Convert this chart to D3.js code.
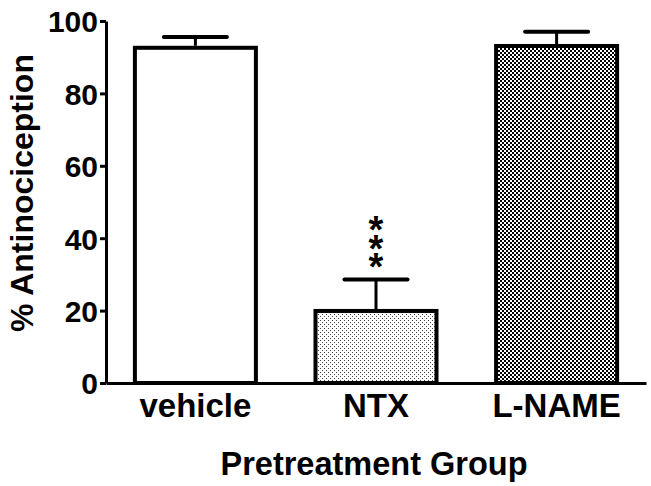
<!DOCTYPE html>
<html>
<head>
<meta charset="utf-8">
<script src="https://cdn.jsdelivr.net/npm/d3@7"></script>
<style>
  body { margin: 0; background: #fff; }
  text { font-family: "Liberation Sans", Arial, sans-serif; font-weight: bold; fill: #000; }
</style>
</head>
<body>
<div class="chart"></div>
<script>
// % antinociception by pretreatment group (mean +/- SEM)

const GROUPS = ['vehicle', 'NTX', 'L-NAME']
const MEANS = [92.6, 19.9, 93.1]
const SEMS = [3.0, 8.7, 3.9]
const SIGNIF = ['', '***', '']
const Y_TICKS = [0, 20, 40, 60, 80, 100]

var svgWidth = 651
var svgHeight = 486

var svg = d3.select('.chart')
    .append('svg')
    .attr('width', svgWidth)
    .attr('height', svgHeight)

var defs = svg.append('defs')

// fine dot fill for NTX
var dots = defs.append('pattern')
    .attr('id', 'dots')
    .attr('width', 4).attr('height', 4)
    .attr('patternUnits', 'userSpaceOnUse')
dots.append('rect').attr('width', 4).attr('height', 4).attr('fill', '#fff')
dots.append('rect').attr('x', 0).attr('y', 0).attr('width', 1).attr('height', 1).attr('fill', '#444')
dots.append('rect').attr('x', 2).attr('y', 2).attr('width', 1).attr('height', 1).attr('fill', '#444')

// checkerboard fill for L-NAME
var checks = defs.append('pattern')
    .attr('id', 'checks')
    .attr('width', 4).attr('height', 4)
    .attr('patternUnits', 'userSpaceOnUse')
checks.append('rect').attr('width', 4).attr('height', 4).attr('fill', '#fff')
checks.append('rect').attr('x', 0).attr('y', 0).attr('width', 2).attr('height', 2).attr('fill', '#000')
checks.append('rect').attr('x', 2).attr('y', 2).attr('width', 2).attr('height', 2).attr('fill', '#000')

var fills = ['#fff', 'url(#dots)', 'url(#checks)']

var data = GROUPS.map((g, i) => ({ group: g, mean: MEANS[i], sem: SEMS[i], sig: SIGNIF[i], fill: fills[i] }))

var xScale = d3.scaleBand()
    .domain(GROUPS)
    .range([106, 646])
    .paddingInner(0.33)
    .paddingOuter(0.16)

var yScale = d3.scaleLinear()
    .domain([0, 100])
    .range([383, 21])

// bars
svg.selectAll('.bar')
    .data(data)
    .enter()
    .append('rect')
    .classed('bar', true)
    .attr('x', d => xScale(d.group))
    .attr('y', d => yScale(d.mean))
    .attr('width', xScale.bandwidth())
    .attr('height', d => yScale(0) - yScale(d.mean))
    .attr('fill', d => d.fill)
    .attr('stroke', '#000')
    .attr('stroke-width', 4)

// error bars (upper only)
var capW = 63
var err = svg.selectAll('.err')
    .data(data)
    .enter()
    .append('g')
    .classed('err', true)
    .attr('transform', d => `translate(${xScale(d.group) + xScale.bandwidth() / 2}, 0)`)

err.append('line')
    .attr('x1', 0).attr('x2', 0)
    .attr('y1', d => yScale(d.mean) - 2)
    .attr('y2', d => yScale(d.mean + d.sem))
    .attr('stroke', '#000')
    .attr('stroke-width', 3)

err.append('line')
    .attr('x1', -capW / 2).attr('x2', capW / 2)
    .attr('y1', d => yScale(d.mean + d.sem))
    .attr('y2', d => yScale(d.mean + d.sem))
    .attr('stroke', '#000')
    .attr('stroke-width', 4)
    .attr('stroke-linecap', 'round')

// significance stars stacked vertically above the cap:
// one text run turned 90deg, each glyph turned back upright
var starFs = 38
var starStep = 18.5
data.filter(d => d.sig).forEach(d => {
    var cx = xScale(d.group) + xScale.bandwidth() / 2
    var n = d.sig.length
    var lowest = yScale(d.mean + d.sem) - 21          // centre of bottom star
    var topCentre = lowest - (n - 1) * starStep
    var adv = 0.389 * starFs
    svg.append('text')
        .attr('transform', `translate(${cx - adv / 2}, ${topCentre + 22}) rotate(90)`)
        .attr('rotate', '-90')
        .attr('font-size', starFs + 'px')
        .attr('letter-spacing', (starStep - adv) + 'px')
        .text(d.sig)
})

// y axis
var yAxis = svg.append('g')
    .attr('transform', 'translate(106, 0)')
    .call(d3.axisLeft(yScale).tickValues(Y_TICKS).tickSize(6).tickSizeOuter(0).tickPadding(2))
yAxis.select('.domain').attr('stroke-width', 3)
yAxis.selectAll('.tick line').attr('stroke-width', 3)
yAxis.selectAll('.tick text')
    .attr('font-size', '30px')
    .attr('dy', '0.36em')

// x axis
var xAxis = svg.append('g')
    .attr('transform', 'translate(0, 383)')
    .call(d3.axisBottom(xScale).tickSize(0).tickSizeOuter(0).tickPadding(11))
xAxis.select('.domain').attr('stroke-width', 3)
xAxis.selectAll('.tick text')
    .attr('font-size', '33px')

// axis titles
svg.append('text')
    .attr('transform', 'translate(33, 193) rotate(-90)')
    .attr('text-anchor', 'middle')
    .attr('font-size', '32px')
    .text('% Antinociception')

svg.append('text')
    .attr('x', 374)
    .attr('y', 475)
    .attr('text-anchor', 'middle')
    .attr('font-size', '32.5px')
    .text('Pretreatment Group')
</script>
</body>
</html>
